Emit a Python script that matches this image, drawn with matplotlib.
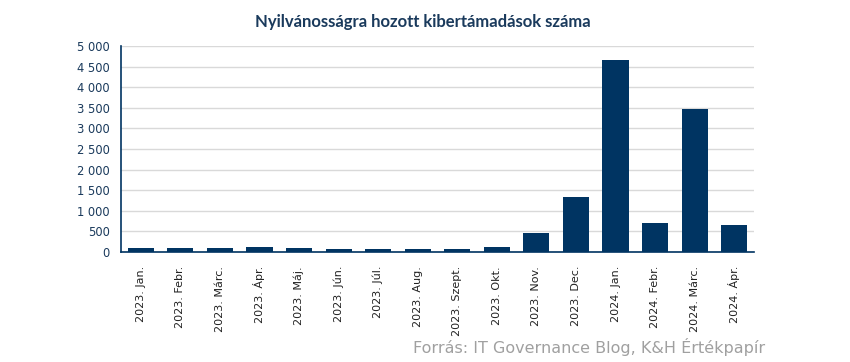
import matplotlib
matplotlib.use("Agg")
import matplotlib.pyplot as plt
from matplotlib.ticker import FuncFormatter, MultipleLocator

categories = ["2023. Jan.", "2023. Febr.", "2023. Márc.", "2023. Ápr.", "2023. Máj.",
              "2023. Jún.", "2023. Júl.", "2023. Aug.", "2023. Szept.", "2023. Okt.",
              "2023. Nov.", "2023. Dec.", "2024. Jan.", "2024. Febr.", "2024. Márc.",
              "2024. Ápr."]
values = [100, 100, 100, 125, 100, 75, 80, 75, 75, 120, 470, 1340, 4650, 710, 3480, 660]

plt.rcParams["font.family"] = ["DejaVu Sans"]
navy = "#003462"
fig = plt.figure(figsize=(8.5, 3.62), dpi=100)
ax = fig.add_axes([0.1424, 0.3039, 0.887 - 0.1424, 0.873 - 0.3039])
x = range(len(categories))
ax.bar(x, values, width=0.66, color=navy, zorder=3)
ax.set_xlim(-0.5, len(categories) - 0.5)
ax.set_ylim(0, 5000)
ax.yaxis.set_major_locator(MultipleLocator(500))
ax.yaxis.set_major_formatter(FuncFormatter(lambda v, p: f"{int(v):,}".replace(",", " ")))
ax.grid(axis="y", color="#d9d9d9", linewidth=1, zorder=0)
ax.set_xticks(list(x))
ax.set_xticklabels(categories, rotation=90, fontsize=8, color="#222222")
for lab in ax.get_yticklabels():
    lab.set_fontsize(8.3)
    lab.set_color("#1a3a5c")
ax.tick_params(axis="y", length=0, pad=8)
ax.tick_params(axis="x", length=0, pad=10)
for s in ["top", "right"]:
    ax.spines[s].set_visible(False)
ax.spines["left"].set_color(navy)
ax.spines["bottom"].set_color(navy)
ax.spines["left"].set_linewidth(1.2)
ax.spines["bottom"].set_linewidth(1.2)
ax.spines["left"].set_zorder(4)
ax.spines["bottom"].set_zorder(4)

fig.text(0.497, 1 - 22 / 362, "Nyilvánosságra hozott kibertámadások száma",
         ha="center", va="center", fontsize=12, fontweight="bold",
         color="#1a3a5c", family=["Lato", "DejaVu Sans"])
fig.text(765 / 850, 1 - 347 / 362, "Forrás: IT Governance Blog, K&H Értékpapír",
         ha="right", va="center", fontsize=11.5, color="#a0a0a0",
         family=["DejaVu Sans Condensed", "DejaVu Sans"])
fig.savefig("out.png", dpi=100)
